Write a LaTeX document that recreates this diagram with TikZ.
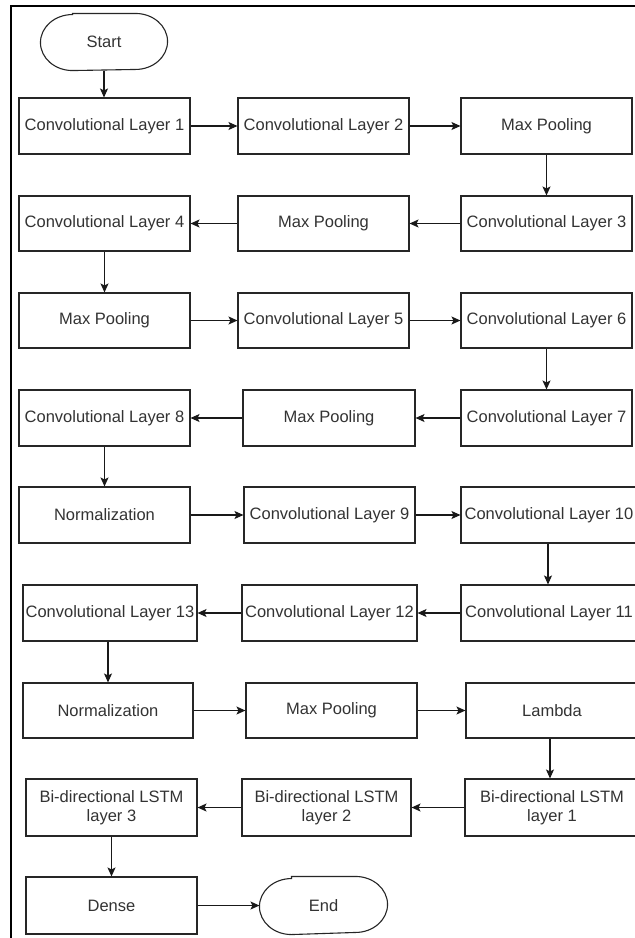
\documentclass[tikz,border=0pt]{standalone}
\usepackage{fontspec}
\setmainfont{Liberation Sans}
\usetikzlibrary{arrows.meta}
\tikzset{x=1pt,y=-1pt,
 box/.style={draw=black!85,line width=1.1pt,fill=white,text=black!80,font=\fontsize{16.5}{19}\selectfont,align=center,inner sep=0pt,minimum height=56pt},
 term/.style={box,draw=none,fill=none},
 arr/.style={draw=black!90,line width=1.1pt,-{Stealth[length=9pt,width=8pt,inset=2pt]}},
 frame/.style={draw=black,line width=2pt},
 termline/.style={draw=black!85,line width=1.1pt}
}
\newcommand\termoutline[1]{\draw[termline] ([xshift=32pt]#1.north west) -- ([xshift=-32pt]#1.north east) arc[start angle=90,end angle=-90,x radius=32pt,y radius=28pt] -- ([xshift=32pt]#1.south west) arc[start angle=270,end angle=90,x radius=32pt,y radius=28pt] -- cycle;}
\begin{document}
\begin{tikzpicture}
\useasboundingbox (0,0) rectangle (635,938);
\fill[white] (0,0) rectangle (635,938);
\draw[frame] (11,960) -- (11,6) -- (660,6);

% terminals
\node[term,minimum width=126pt] (start) at (104,42) {Start};
\termoutline{start}
\node[term,minimum width=127pt,minimum height=57pt] (end) at (323.5,905.5) {End};
\termoutline{end}

% row 1
\node[box,minimum width=171pt] (c1) at (104.5,126) {Convolutional Layer 1};
\node[box,minimum width=171pt] (c2) at (323.5,126) {Convolutional Layer 2};
\node[box,minimum width=171pt] (mp1) at (546.5,126) {Max Pooling};
% row 2
\node[box,minimum width=171pt,minimum height=55pt] (c4) at (104.5,223.5) {Convolutional Layer 4};
\node[box,minimum width=171pt,minimum height=55pt] (mp2) at (323.5,223.5) {Max Pooling};
\node[box,minimum width=171pt,minimum height=55pt] (c3) at (546.5,223.5) {Convolutional Layer 3};
% row 3
\node[box,minimum width=171pt,minimum height=55pt] (mp3) at (104.5,320.5) {Max Pooling};
\node[box,minimum width=171pt,minimum height=55pt] (c5) at (323.5,320.5) {Convolutional Layer 5};
\node[box,minimum width=171pt,minimum height=55pt] (c6) at (546.5,320.5) {Convolutional Layer 6};
% row 4
\node[box,minimum width=171pt] (c8) at (104.5,418) {Convolutional Layer 8};
\node[box,minimum width=172pt] (mp4) at (329,418) {Max Pooling};
\node[box,minimum width=171pt] (c7) at (546.5,418) {Convolutional Layer 7};
% row 5
\node[box,minimum width=171pt] (n1) at (104.5,515) {Normalization};
\node[box,minimum width=171pt] (c9) at (329.5,515) {Convolutional Layer 9};
\node[box,minimum width=176pt] (c10) at (549,515) {Convolutional Layer 10};
% row 6
\node[box,minimum width=174pt] (c13) at (110,613) {Convolutional Layer 13};
\node[box,minimum width=175pt] (c12) at (329.5,613) {Convolutional Layer 12};
\node[box,minimum width=176pt] (c11) at (549,613) {Convolutional Layer 11};
% row 7
\node[box,minimum width=170pt,minimum height=55pt] (n2) at (108,710.5) {Normalization};
\node[box,minimum width=171pt,minimum height=55pt] (mp7) at (331.5,710.5) {Max Pooling};
\node[box,minimum width=172pt,minimum height=55pt] (lam) at (552,710.5) {Lambda};
% row 8
\node[box,minimum width=171pt,minimum height=57pt] (b3) at (111.5,807.5) {Bi-directional LSTM\\layer 3};
\node[box,minimum width=169pt,minimum height=57pt] (b2) at (326.5,807.5) {Bi-directional LSTM\\layer 2};
\node[box,minimum width=174pt,minimum height=57pt] (b1) at (552,807.5) {Bi-directional LSTM\\layer 1};
% row 9
\node[box,minimum width=171pt,minimum height=57pt] (dense) at (111.5,905.5) {Dense};

% connectors
\draw[arr] (start.south) -- (start.south |- c1.north);
\draw[arr] (c1) -- (c2);
\draw[arr] (c2) -- (mp1);
\draw[arr] (mp1) -- (c3);
\draw[arr] (c3) -- (mp2);
\draw[arr] (mp2) -- (c4);
\draw[arr] (c4) -- (mp3);
\draw[arr] (mp3) -- (c5);
\draw[arr] (c5) -- (c6);
\draw[arr] (c6) -- (c7);
\draw[arr] (c7.west) -- (mp4.east);
\draw[arr] (mp4.west) -- (c8.east);
\draw[arr] (c8) -- (n1);
\draw[arr] (n1.east) -- (c9.west);
\draw[arr] (c9.east) -- (c10.west);
\draw[arr] (c10.south -| 548,0) -- (c11.north -| 548,0);
\draw[arr] (c11.west) -- (c12.east);
\draw[arr] (c12.west) -- (c13.east);
\draw[arr] (c13.south -| n2.north) -- (n2.north);
\draw[arr] (n2.east) -- (mp7.west);
\draw[arr] (mp7.east) -- (lam.west);
\draw[arr] (lam.south -| 550,0) -- (b1.north -| 550,0);
\draw[arr] (b1.west) -- (b2.east);
\draw[arr] (b2.west) -- (b3.east);
\draw[arr] (b3.south -| dense.north) -- (dense.north);
\draw[arr] (dense.east) -- (end.west);
\end{tikzpicture}
\end{document}
